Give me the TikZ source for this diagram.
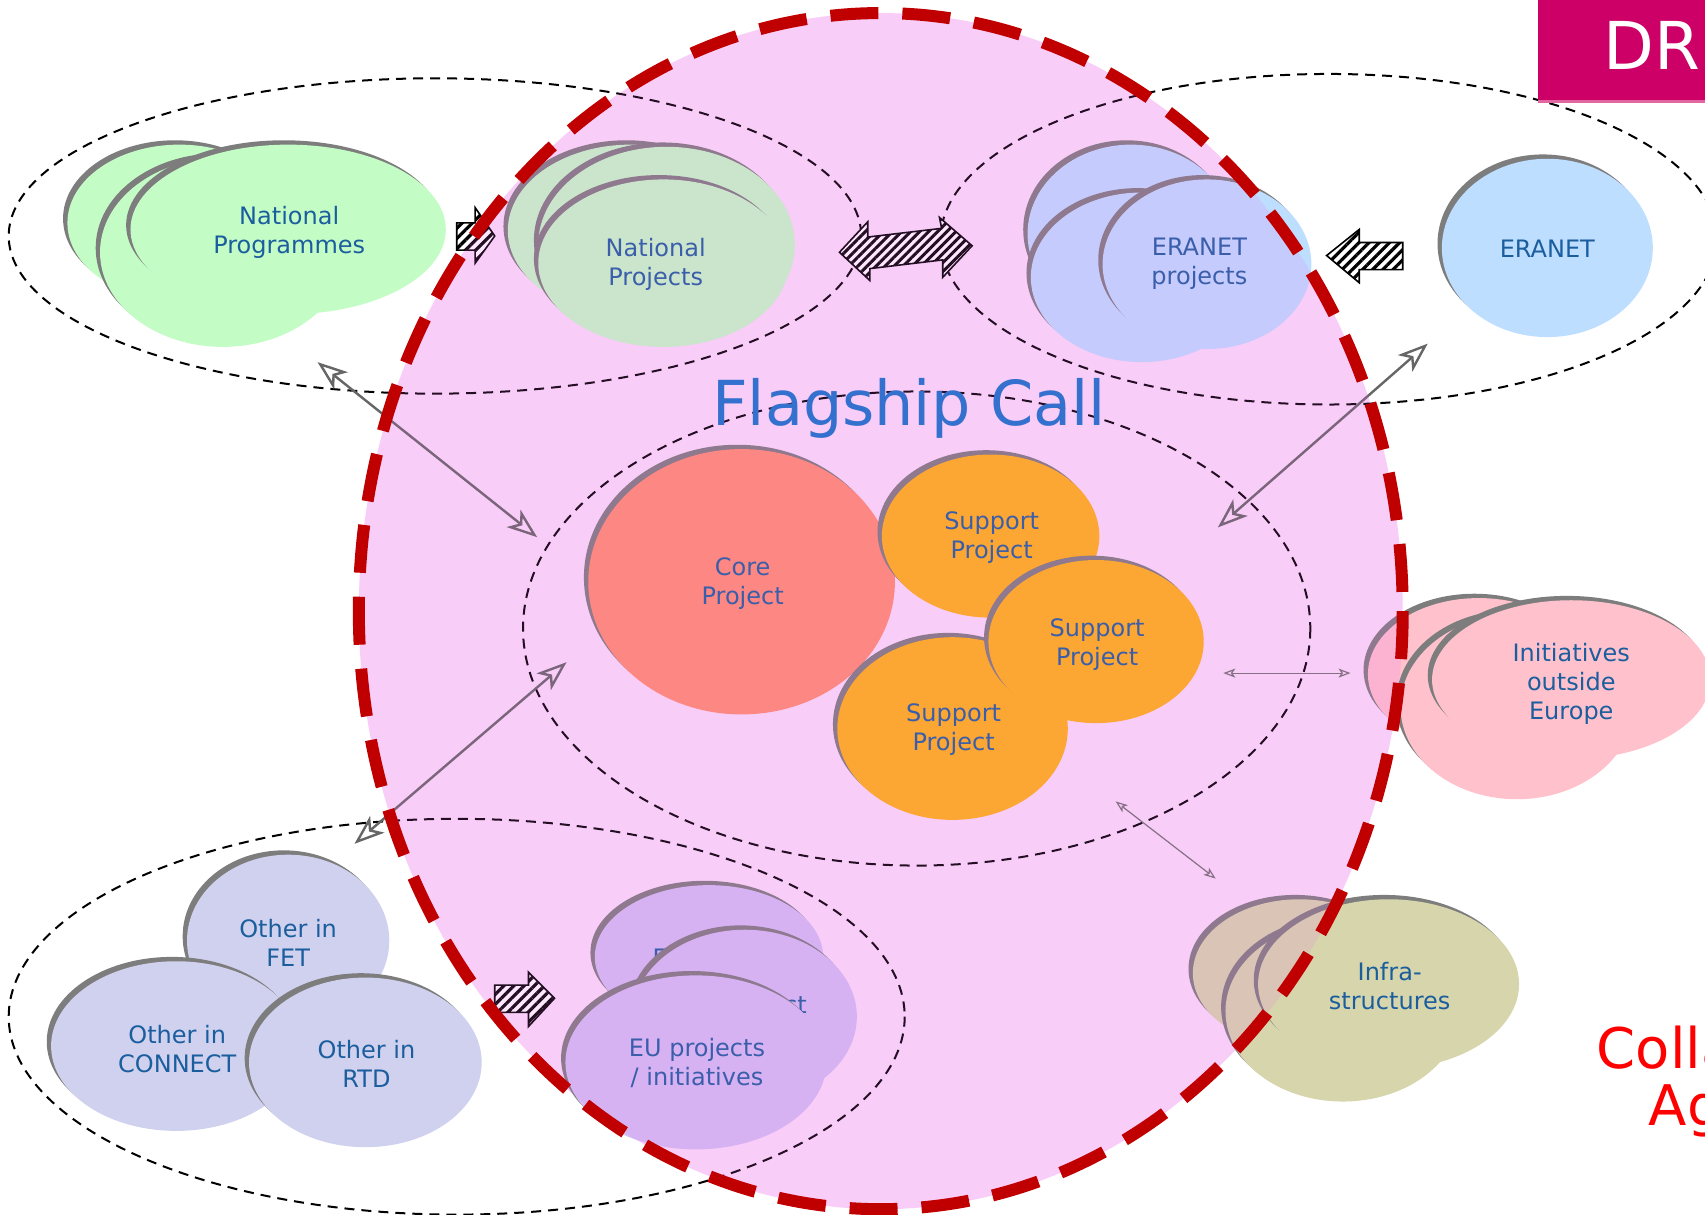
\documentclass[tikz,border=0pt]{standalone}
\usepackage{fontspec}
\setmainfont{DejaVu Sans}
\usetikzlibrary{arrows.meta,patterns.meta}

\definecolor{npgreen}{RGB}{196,252,198}
\definecolor{erablue}{RGB}{190,222,255}
\definecolor{initpink}{RGB}{255,194,205}
\definecolor{infraolive}{RGB}{214,213,172}
\definecolor{eupurple}{RGB}{210,192,244}
\definecolor{otherlav}{RGB}{208,209,238}
\definecolor{coresalmon}{RGB}{255,142,112}
\definecolor{supportorange}{RGB}{255,178,18}
\definecolor{shadowgray}{RGB}{125,125,125}
\definecolor{labelblue}{RGB}{27,94,158}
\definecolor{flagblue}{RGB}{52,112,206}
\definecolor{callpink}{RGB}{250,224,250}
\definecolor{tintpink}{RGB}{240,100,240}
\definecolor{borderred}{RGB}{192,0,0}
\definecolor{draftmagenta}{RGB}{204,0,102}
\definecolor{draftband}{RGB}{226,102,160}

% one filled oval with its grey shadow rim on the upper left
\newcommand\blobshape[5]{%
  \fill[shadowgray] ({#1-4},{#2-4}) ellipse [x radius=#3, y radius=#4];
  \fill[#5] (#1,#2) ellipse [x radius=#3, y radius=#4];}

\tikzset{
  lbl/.style={font=\fontsize{12}{14.5}\selectfont, text=labelblue, align=center, inner sep=0pt},
  grouprim/.style={draw=black, line width=1pt, dash pattern=on 5pt off 3.5pt},
  twoway/.style={draw=black!60, line width=1.2pt,
    {Stealth[open,length=15pt,width=11pt,inset=4pt]}-{Stealth[open,length=15pt,width=11pt,inset=4pt]}},
  minorlink/.style={draw=black!55, line width=0.6pt,
    {Stealth[open,length=6pt,width=4.5pt,inset=1.5pt]}-{Stealth[open,length=6pt,width=4.5pt,inset=1.5pt]}},
  hatcharrow/.style={preaction={fill=white}, draw=black, line width=0.8pt,
    pattern={Lines[angle=45,distance=3.6pt,line width=1.6pt]}, pattern color=black},
  bigtext/.style={font=\fontsize{28}{34}\selectfont, inner sep=0pt, anchor=base west},
}

\begin{document}
\begin{tikzpicture}[x=0.5437pt,y=-0.5437pt]
\useasboundingbox (0,0) rectangle (1568,1117);
\clip (0,0) rectangle (1568,1117);

% flagship call area (background)
\fill[callpink] (810,562) ellipse [x radius=480, y radius=550];

% dashed group outlines
\draw[grouprim] (400,217) ellipse [x radius=392, y radius=145];
\draw[grouprim] (1222,220) ellipse [x radius=357, y radius=152];
\draw[grouprim] (843,578) ellipse [x radius=362, y radius=218];
\draw[grouprim] (420,935) ellipse [x radius=412, y radius=182];

% national programmes
\blobshape{165}{205}{103}{72}{npgreen}
\blobshape{205}{232}{113}{87}{npgreen}
\blobshape{265}{211}{145}{78}{npgreen}
\node[lbl] (natprog) at (266,214) {National\\Programmes};

% national projects
\blobshape{580}{212}{113}{79}{npgreen}
\blobshape{613}{225}{118}{90}{npgreen}
\blobshape{610}{242}{115}{77}{npgreen}
\node[lbl] (natproj) at (603,243) {National\\Projects};

% ERANET projects
\blobshape{1040}{215}{95}{82}{erablue}
\blobshape{1050}{255}{102}{78}{erablue}
\blobshape{1110}{243}{96}{78}{erablue}
\node[lbl] (eraproj) at (1103,243) {ERANET\\projects};

% ERANET
\blobshape{1423}{228}{97}{82}{erablue}
\node[lbl] (eranet) at (1423,229) {ERANET};

% core and support projects
\blobshape{682}{535}{141}{122}{coresalmon}
\node[lbl] (core) at (683,537) {Core\\Project};
\blobshape{911}{493}{100}{75}{supportorange}
\node[lbl] (supA) at (912,494) {Support\\Project};
\blobshape{876}{670}{106}{84}{supportorange}
\node[lbl] (supC) at (877,671) {Support\\Project};
\blobshape{1008}{590}{99}{75}{supportorange}
\node[lbl] (supB) at (1009,593) {Support\\Project};

% initiatives outside Europe
\blobshape{1360}{620}{102}{70}{initpink}
\blobshape{1395}{650}{107}{85}{initpink}
\blobshape{1445}{625}{128}{73}{initpink}
\node[lbl] (init) at (1445,629) {Initiatives\\outside\\Europe};

% infrastructures
\blobshape{1195}{895}{98}{68}{infraolive}
\blobshape{1235}{930}{108}{83}{infraolive}
\blobshape{1277}{905}{120}{78}{infraolive}
\node[lbl] (infra) at (1278,907) {Infra-\\structures};

% EU projects / initiatives
\blobshape{652}{880}{105}{66}{eupurple}
\node[lbl] (euback) at (657,883) {EU project};
\blobshape{685}{935}{103}{80}{eupurple}
\node[lbl] (eumid) at (685,926) {EU project};
\blobshape{640}{977}{120}{80}{eupurple}
\node[lbl] (eu) at (641,978) {EU projects\\/ initiatives};

% other programme parts
\blobshape{265}{865}{93}{79}{otherlav}
\node[lbl] (fet) at (265,867) {Other in\\FET};
\blobshape{162}{962}{115}{78}{otherlav}
\node[lbl] (connect) at (163,965) {Other in\\CONNECT};
\blobshape{336}{977}{107}{78}{otherlav}
\node[lbl] (rtd) at (337,978) {Other in\\RTD};

% hatched block arrows
\draw[hatcharrow] (420,205) -- (437,205) -- (437,191) -- (455,217) -- (437,242) -- (437,230) -- (420,230) -- cycle;
\draw[hatcharrow, pattern={Lines[angle=45,distance=3.2pt,line width=1.5pt]}]
  (772,232) -- (798,204) -- (798,218) -- (866,210) -- (864,200) -- (894,226)
  -- (867,255) -- (867,239) -- (800,247) -- (800,258) -- cycle;
\draw[hatcharrow] (1220,235) -- (1250,211) -- (1250,223) -- (1290,223) -- (1290,248) -- (1250,248) -- (1250,260) -- cycle;
\draw[hatcharrow] (455,906) -- (486,906) -- (486,894) -- (510,918) -- (486,944) -- (486,931) -- (455,931) -- cycle;

% two-way links
\coordinate (l1a) at (292,333);
\coordinate (l1b) at (494,494);
\coordinate (l2a) at (1313,316);
\coordinate (l2b) at (1120,485);
\coordinate (l3a) at (521,609);
\coordinate (l3b) at (326,776);
\coordinate (l4a) at (1125,619);
\coordinate (l4b) at (1242,619);
\coordinate (l5a) at (1026,737);
\coordinate (l5b) at (1118,808);
\draw[twoway] (l1a) -- (l1b);
\draw[twoway] (l2a) -- (l2b);
\draw[twoway] (l3a) -- (l3b);
\draw[minorlink] (l4a) -- (l4b);
\draw[minorlink] (l5a) -- (l5b);

% flagship call tint over its contents
\fill[tintpink, fill opacity=0.15] (810,562) ellipse [x radius=480, y radius=550];
\node[font=\fontsize{31}{36}\selectfont, text=flagblue, inner sep=0pt] (flag) at (836,376) {Flagship Call};
\draw[draw=borderred, line width=6pt, dash pattern=on 24pt off 12pt]
  (810,562) ellipse [x radius=480, y radius=550];

% draft banner
\fill[draftmagenta] (1414,0) rectangle (1568,92);
\fill[draftband] (1414,92) rectangle (1568,95);
\node[bigtext, font=\fontsize{33}{38}\selectfont, text=white] (draft) at (1474,64) {DR};

% agreement caption
\node[bigtext, text=red] (colla) at (1468,983) {Colla};
\node[bigtext, text=red] (agr) at (1516,1035) {Ag};
\end{tikzpicture}
\end{document}
